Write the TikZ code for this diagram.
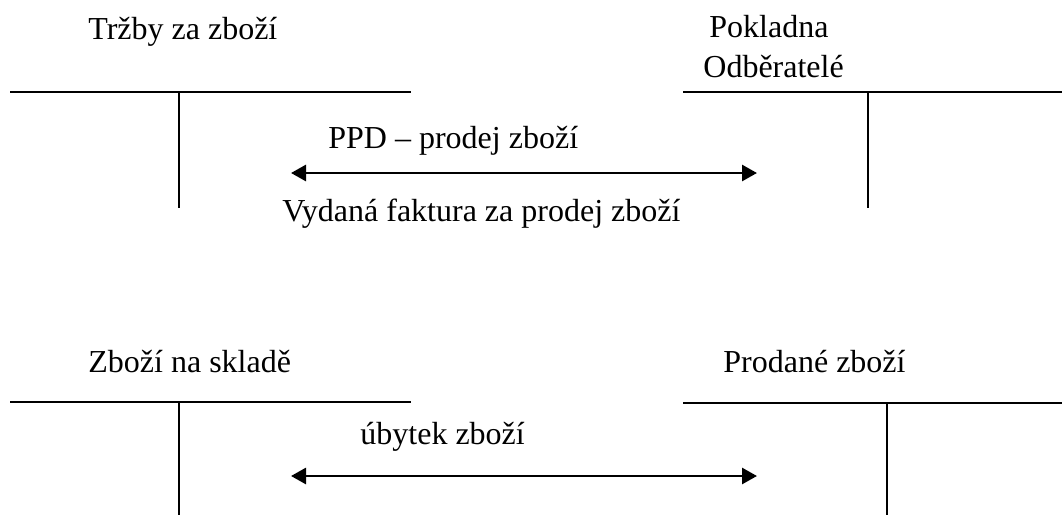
\documentclass[tikz,border=0pt]{standalone}
\usepackage{fontspec}
\setmainfont{Liberation Serif}
\usetikzlibrary{arrows.meta}
\tikzset{
  lbl/.style={anchor=base west, inner sep=0pt, font=\fontsize{16pt}{20pt}\selectfont},
  tline/.style={line width=1.2pt, black},
  flow/.style={line width=1.4pt, black, {Triangle[length=7.5pt,width=8pt]}-{Triangle[length=7.5pt,width=8pt]}}
}
\begin{document}
\begin{tikzpicture}[x=0.5pt,y=-0.5pt]
\useasboundingbox (0,0) rectangle (1062,515);
% labels
\node[lbl] (t1) at (88,39) {Tržby za zboží};
\node[lbl] (t2a) at (709,37) {Pokladna};
\node[lbl] (t2b) at (703,77) {Odběratelé};
\node[lbl] (t3) at (88,372) {Zboží na skladě};
\node[lbl] (t4) at (723,372) {Prodané zboží};
\node[lbl] (a1) at (328,148) {PPD – prodej zboží};
\node[lbl] (a1b) at (282,221) {Vydaná faktura za prodej zboží};
\node[lbl] (a2) at (360,444) {úbytek zboží};
% T-accounts
\coordinate (A1l) at (10,92);  \coordinate (A1r) at (411,92);
\coordinate (A1t) at (179,92); \coordinate (A1b) at (179,208);
\coordinate (A2l) at (683,92); \coordinate (A2r) at (1062,92);
\coordinate (A2t) at (868,92); \coordinate (A2b) at (868,208);
\coordinate (A3l) at (10,402); \coordinate (A3r) at (411,402);
\coordinate (A3t) at (179,402); \coordinate (A3b) at (179,515);
\coordinate (A4l) at (683,403); \coordinate (A4r) at (1062,403);
\coordinate (A4t) at (887,403); \coordinate (A4b) at (887,515);
\draw[tline] (A1l) -- (A1r); \draw[tline] (A1t) -- (A1b);
\draw[tline] (A2l) -- (A2r); \draw[tline] (A2t) -- (A2b);
\draw[tline] (A3l) -- (A3r); \draw[tline] (A3t) -- (A3b);
\draw[tline] (A4l) -- (A4r); \draw[tline] (A4t) -- (A4b);
% arrows
\coordinate (F1l) at (291,173); \coordinate (F1r) at (757,173);
\coordinate (F2l) at (291,476); \coordinate (F2r) at (757,476);
\draw[flow] (F1l) -- (F1r);
\draw[flow] (F2l) -- (F2r);
\end{tikzpicture}
\end{document}
